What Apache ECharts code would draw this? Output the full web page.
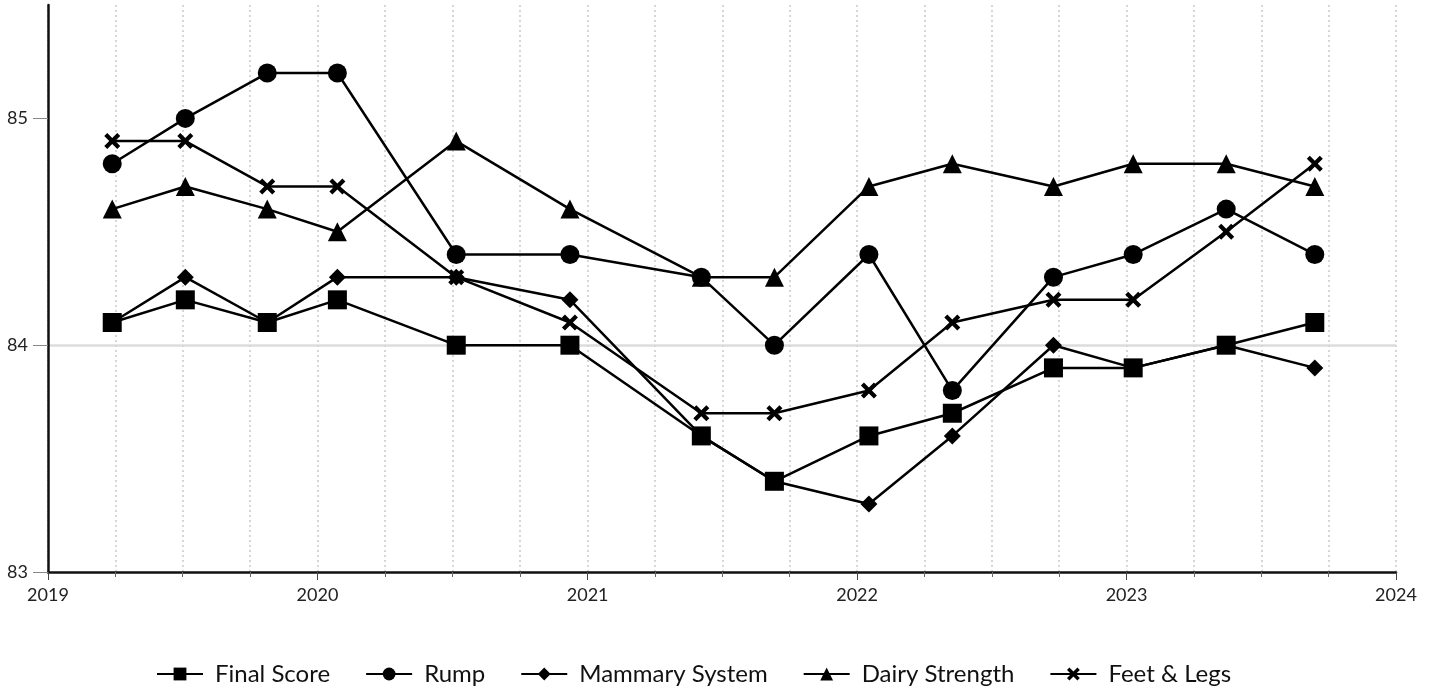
<!DOCTYPE html>
<html>
<head>
<meta charset="utf-8">
<script src="https://cdn.jsdelivr.net/npm/echarts@6/dist/echarts.min.js"></script>
<style>
html,body{margin:0;padding:0;background:#fff;}
#chart{width:1434px;height:691px;}
</style>
</head>
<body>
<div id="chart"></div>
<script>
const dates = ['2019-03-29','2019-07-06','2019-10-25','2020-01-28','2020-07-07','2020-12-08','2021-06-04','2021-09-11','2022-01-17','2022-05-10','2022-09-24','2023-01-10','2023-05-16','2023-09-13'];
const finalScore = [84.1,84.2,84.1,84.2,84.0,84.0,83.6,83.4,83.6,83.7,83.9,83.9,84.0,84.1];
const rump = [84.8,85.0,85.2,85.2,84.4,84.4,84.3,84.0,84.4,83.8,84.3,84.4,84.6,84.4];
const mammary = [84.1,84.3,84.1,84.3,84.3,84.2,83.6,83.4,83.3,83.6,84.0,83.9,84.0,83.9];
const dairy = [84.6,84.7,84.6,84.5,84.9,84.6,84.3,84.3,84.7,84.8,84.7,84.8,84.8,84.7];
const feetLegs = [84.9,84.9,84.7,84.7,84.3,84.1,83.7,83.7,83.8,84.1,84.2,84.2,84.5,84.8];
const seriesNames = ['Final Score','Rump','Mammary System','Dairy Strength','Feet & Legs'];
const yTicks = [83,84,85];

const crossPath = 'path://M0,3 L3,0 L8,5 L13,0 L16,3 L11,8 L16,13 L13,16 L8,11 L3,16 L0,13 L5,8 Z';
const symbols = ['rect','circle','diamond','triangle',crossPath];
const sizes = [19,19,17,19,16];
const values = [finalScore, rump, mammary, dairy, feetLegs];

const FONT = 'Lato';
const chart = echarts.init(document.getElementById('chart'));
const option = {
  backgroundColor:'#fff',
  animation:false,
  textStyle:{fontFamily:FONT},
  grid:{left:48,right:38,top:5,bottom:119,containLabel:false},
  legend:{
    bottom:0,
    left:151,
    itemWidth:46,
    itemHeight:16,
    itemGap:35,
    textStyle:{fontFamily:FONT,fontSize:24,color:'#111',padding:[0,0,0,7]},
    data:seriesNames
  },
  xAxis:{
    type:'time',
    min:'2019-01-01',
    max:'2024-01-01',
    minInterval:365*24*3600*1000,
    maxInterval:366*24*3600*1000,
    axisLine:{show:true,lineStyle:{color:'#111',width:2.5}},
    axisTick:{show:true,length:8,lineStyle:{color:'#444',width:1}},
    minorTick:{show:true,splitNumber:4,length:5,lineStyle:{color:'#666',width:1}},
    splitLine:{show:true,lineStyle:{color:'#d6d6d6',width:2,type:[2,3]}},
    minorSplitLine:{show:true,lineStyle:{color:'#d6d6d6',width:2,type:[2,3]}},
    axisLabel:{
      fontFamily:FONT,fontSize:18,color:'#222',margin:14,
      showMinLabel:true,showMaxLabel:true,
      formatter:function(v){return String(new Date(v).getFullYear());}
    }
  },
  yAxis:{
    type:'value',
    min:83,
    max:85.5,
    interval:1,
    axisLine:{show:true,lineStyle:{color:'#111',width:2.5}},
    axisTick:{show:true,length:15,customValues:yTicks,lineStyle:{color:'#888',width:1}},
    splitLine:{show:true,showMinLine:false,showMaxLine:false,lineStyle:{color:'#dcdcdc',width:2.5}},
    axisLabel:{
      fontFamily:FONT,fontSize:18,color:'#222',margin:20,
      customValues:yTicks,
      formatter:function(v){return Number.isInteger(v)?String(v):'';}
    }
  },
  series: seriesNames.map(function(name,i){
    return {
      name:name,
      type:'line',
      data:dates.map(function(d,j){return [d, values[i][j]];}),
      symbol:symbols[i],
      symbolSize:sizes[i],
      showAllSymbol:true,
      lineStyle:{color:'#000',width:2.5},
      itemStyle:{color:'#000',borderWidth:0},
      emphasis:{disabled:true}
    };
  })
};
chart.setOption(option);
</script>
</body>
</html>
